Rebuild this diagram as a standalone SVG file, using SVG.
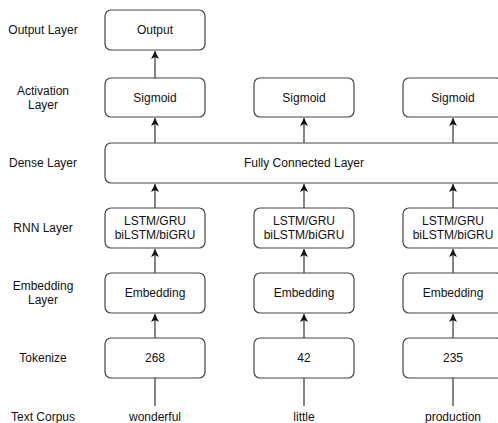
<svg xmlns="http://www.w3.org/2000/svg" width="498" height="423" viewBox="0 0 498 423">
<defs>
<marker id="ah" markerWidth="10" markerHeight="10" refX="8" refY="4.5" orient="auto" markerUnits="userSpaceOnUse">
<path d="M0,0.5 L8,4.5 L0,8.5 L2,4.5 Z" fill="#111"/>
</marker>
<style>
.box{fill:#fff;stroke:#444;stroke-width:1.2}
.t{font-family:"Liberation Sans",Arial,sans-serif;font-size:12px;fill:#111;text-anchor:middle}
.e{stroke:#333;stroke-width:1.2;fill:none;marker-end:url(#ah)}
</style>
</defs>
<rect width="498" height="423" fill="#fff"/>
<g id="labels">
<text class="t" x="43" y="34">Output Layer</text>
<text class="t" x="43" y="95">Activation</text>
<text class="t" x="43" y="109">Layer</text>
<text class="t" x="43" y="167">Dense Layer</text>
<text class="t" x="43" y="232">RNN Layer</text>
<text class="t" x="43" y="290">Embedding</text>
<text class="t" x="43" y="304">Layer</text>
<text class="t" x="43" y="362">Tokenize</text>
<text class="t" x="43" y="421">Text Corpus</text>
</g>
<g id="connectors">
<line class="e" x1="155" y1="406" x2="155" y2="339"/>
<line class="e" x1="304" y1="406" x2="304" y2="339"/>
<line class="e" x1="453" y1="406" x2="453" y2="339"/>
<line class="e" x1="155" y1="338" x2="155" y2="314"/>
<line class="e" x1="304" y1="338" x2="304" y2="314"/>
<line class="e" x1="453" y1="338" x2="453" y2="314"/>
<line class="e" x1="155" y1="273" x2="155" y2="249"/>
<line class="e" x1="304" y1="273" x2="304" y2="249"/>
<line class="e" x1="453" y1="273" x2="453" y2="249"/>
<line class="e" x1="155" y1="208" x2="155" y2="184"/>
<line class="e" x1="304" y1="208" x2="304" y2="184"/>
<line class="e" x1="453" y1="208" x2="453" y2="184"/>
<line class="e" x1="155" y1="143" x2="155" y2="118"/>
<line class="e" x1="304" y1="143" x2="304" y2="118"/>
<line class="e" x1="453" y1="143" x2="453" y2="118"/>
<line class="e" x1="155" y1="78" x2="155" y2="51"/>
</g>
<g id="output"><rect class="box" x="105" y="10" width="100" height="40" rx="6"/><text class="t" x="155" y="34">Output</text></g>
<g id="sig1"><rect class="box" x="105" y="78" width="100" height="39" rx="6"/><text class="t" x="155" y="102">Sigmoid</text></g>
<g id="sig2"><rect class="box" x="254" y="78" width="100" height="39" rx="6"/><text class="t" x="304" y="102">Sigmoid</text></g>
<g id="sig3"><rect class="box" x="403" y="78" width="100" height="39" rx="6"/><text class="t" x="453" y="102">Sigmoid</text></g>
<g id="dense"><rect class="box" x="105" y="143" width="400" height="40" rx="6"/><text class="t" x="304" y="167">Fully Connected Layer</text></g>
<g id="rnn1"><rect class="box" x="105" y="208" width="100" height="40" rx="6"/><text class="t" x="155" y="225">LSTM/GRU</text><text class="t" x="155" y="239">biLSTM/biGRU</text></g>
<g id="rnn2"><rect class="box" x="254" y="208" width="100" height="40" rx="6"/><text class="t" x="304" y="225">LSTM/GRU</text><text class="t" x="304" y="239">biLSTM/biGRU</text></g>
<g id="rnn3"><rect class="box" x="403" y="208" width="100" height="40" rx="6"/><text class="t" x="453" y="225">LSTM/GRU</text><text class="t" x="453" y="239">biLSTM/biGRU</text></g>
<g id="emb1"><rect class="box" x="105" y="273" width="100" height="40" rx="6"/><text class="t" x="155" y="297">Embedding</text></g>
<g id="emb2"><rect class="box" x="254" y="273" width="100" height="40" rx="6"/><text class="t" x="304" y="297">Embedding</text></g>
<g id="emb3"><rect class="box" x="403" y="273" width="100" height="40" rx="6"/><text class="t" x="453" y="297">Embedding</text></g>
<g id="tok1"><rect class="box" x="105" y="338" width="100" height="40" rx="6"/><text class="t" x="155" y="362">268</text></g>
<g id="tok2"><rect class="box" x="254" y="338" width="100" height="40" rx="6"/><text class="t" x="304" y="362">42</text></g>
<g id="tok3"><rect class="box" x="403" y="338" width="100" height="40" rx="6"/><text class="t" x="453" y="362">235</text></g>
<g id="w1"><text class="t" x="155" y="421">wonderful</text></g>
<g id="w2"><text class="t" x="304" y="421">little</text></g>
<g id="w3"><text class="t" x="453" y="421">production</text></g>
</svg>
